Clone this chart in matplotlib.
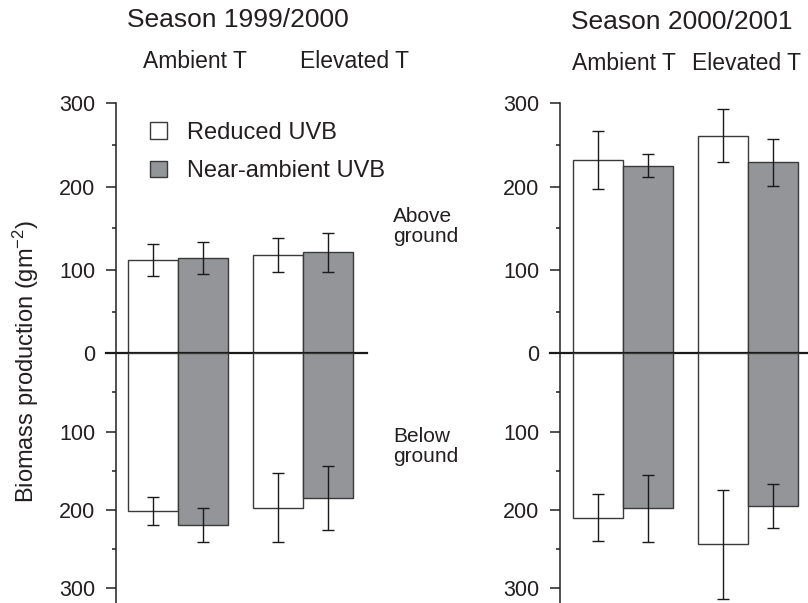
import matplotlib
matplotlib.use("Agg")
import matplotlib.pyplot as plt
from matplotlib.patches import Patch

plt.rcParams['font.family'] = ['Liberation Sans', 'DejaVu Sans']
plt.rcParams['mathtext.fontset'] = 'custom'
plt.rcParams['mathtext.rm'] = 'Liberation Sans'
plt.rcParams['mathtext.it'] = 'Liberation Sans:italic'
plt.rcParams['text.color'] = '#231f20'

### Data ###
seasons = ['Season 1999/2000', 'Season 2000/2001']
temps = ['Ambient T', 'Elevated T']
treatments = ['Reduced UVB', 'Near-ambient UVB']

# order: ambient/reduced, ambient/near, elevated/reduced, elevated/near
above_9900 = [112, 114, 118, 121]
above_9900_err = [19, 19, 20, 23]
below_9900 = [201, 219, 197, 185]
below_9900_err = [18, 22, 44, 41]

above_0001 = [232, 225, 261, 229]
above_0001_err = [35, 14, 32, 28]
below_0001 = [210, 198, 244, 195]
below_0001_err = [30, 43, 69, 28]

### Style ###
W, H = 808, 603
bar_colors = ['white', '#939598', 'white', '#939598']
edge = '#3a3a3a'
xpos = [0, 1, 2.5, 3.5]


def px_axes(fig, left, top, width, height):
    return fig.add_axes([left / W, 1 - (top + height) / H, width / W, height / H])


def style_axis(ax, ticks, minors):
    for s in ['top', 'right', 'bottom']:
        ax.spines[s].set_visible(False)
    ax.spines['left'].set_linewidth(1.1)
    ax.spines['left'].set_color('#231f20')
    ax.set_xticks([])
    ax.set_yticks(ticks)
    ax.set_yticks(minors, minor=True)
    ax.tick_params(axis='y', which='major', length=7, width=1.1, labelsize=15.5,
                   pad=8, colors='#231f20')
    ax.tick_params(axis='y', which='minor', length=3, width=1.1, colors='#231f20')


def draw_bars(ax, vals, errs):
    ax.bar(xpos, vals, width=1.0, color=bar_colors, edgecolor=edge, linewidth=1.0, zorder=2)
    ax.errorbar(xpos, vals, yerr=errs, fmt='none', ecolor='#1a1a1a', elinewidth=1.0,
                capsize=4.5, capthick=1.0, zorder=3, clip_on=False)


fig = plt.figure(figsize=(W / 100, H / 100), dpi=100)

panels = [
    (116, 251, (-0.734, 4.27), above_9900, above_9900_err, below_9900, below_9900_err),
    (560, 248, (-0.754, 4.20), above_0001, above_0001_err, below_0001, below_0001_err),
]

axes_top = []
for left, width, xl, a, ae, b, be in panels:
    top = px_axes(fig, left, 103.3, width, 250)
    draw_bars(top, a, ae)
    top.set_xlim(*xl)
    top.set_ylim(0, 300)
    style_axis(top, [0, 100, 200, 300], [50, 150, 250])
    top.axhline(0, xmin=-10 / width, xmax=1, color='#1a1a1a', lw=1.6, zorder=4, clip_on=False)
    top.patch.set_visible(False)

    bot = px_axes(fig, left, 353.3, width, 249.7)
    draw_bars(bot, b, be)
    bot.set_xlim(*xl)
    bot.set_ylim(318.7, 0)
    style_axis(bot, [100, 200, 300], [50, 150, 250])
    bot.patch.set_visible(False)
    axes_top.append(top)

# legend
handles = [Patch(facecolor=c, edgecolor=edge, linewidth=1.0) for c in bar_colors[:2]]
axes_top[0].legend(handles, treatments, loc='upper left', bbox_to_anchor=(150 / W, 1 - 122 / H),
                   bbox_transform=fig.transFigure, frameon=False, fontsize=17,
                   handlelength=0.72, handleheight=0.72, handletextpad=0.85,
                   labelspacing=0.69, borderpad=0, borderaxespad=0)

# headings
fig.text(238 / W, 1 - 20 / H, seasons[0], ha='center', va='center', fontsize=19)
fig.text(682 / W, 1 - 22 / H, seasons[1], ha='center', va='center', fontsize=19)
for x, t in zip([195, 355], temps):
    fig.text(x / W, 1 - 62 / H, t, ha='center', va='center', fontsize=16.5)
for x, t in zip([624, 746], temps):
    fig.text(x / W, 1 - 64 / H, t, ha='center', va='center', fontsize=16.5)

fig.text(393 / W, 1 - 226.5 / H, 'Above\nground', ha='left', va='center', fontsize=15,
         linespacing=1.12)
fig.text(393 / W, 1 - 446.5 / H, 'Below\nground', ha='left', va='center', fontsize=15,
         linespacing=1.12)

fig.text(26 / W, 1 - 362 / H, r'Biomass production (gm$^{-2}$)', rotation=90,
         ha='center', va='center', fontsize=17)

fig.savefig('out.png', dpi=100)
